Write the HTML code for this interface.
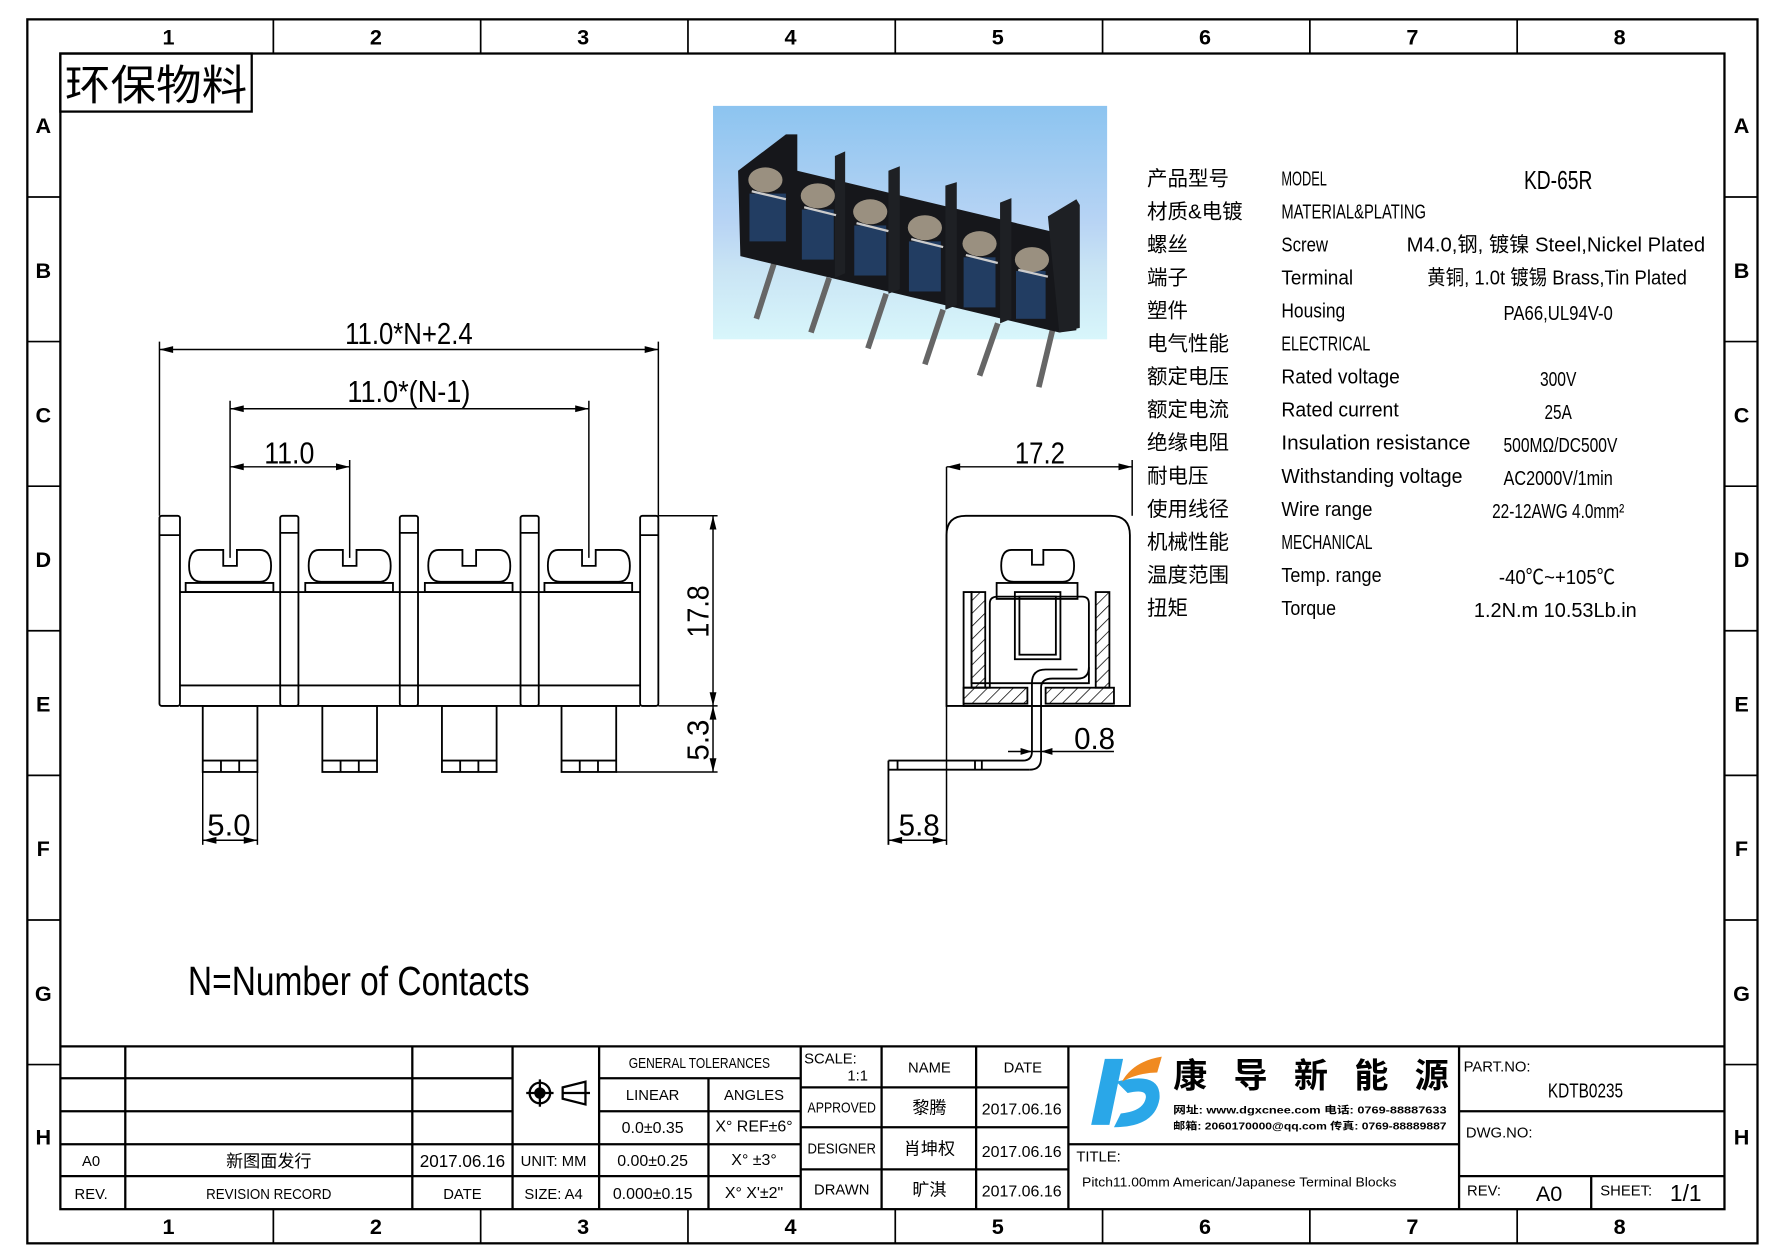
<!DOCTYPE html>
<html><head><meta charset="utf-8"><style>
html,body{margin:0;padding:0;background:#fff;}
svg{display:block;}
text{font-family:"Liberation Sans","Noto Sans CJK SC",sans-serif;fill:#000;}
</style></head><body>
<svg width="1778" height="1257" viewBox="0 0 1561 1104" preserveAspectRatio="none" xmlns="http://www.w3.org/2000/svg">
<defs>
<linearGradient id="bg" x1="0" y1="0" x2="0" y2="1">
<stop offset="0" stop-color="#8cc4f0"/><stop offset="0.5" stop-color="#b8d4f4"/><stop offset="0.7" stop-color="#c9e4f4"/><stop offset="1" stop-color="#d8f6fb"/>
</linearGradient>
<pattern id="hatch" width="8" height="8" patternUnits="userSpaceOnUse" patternTransform="rotate(45)"><line x1="0" y1="0" x2="0" y2="8" stroke="#000" stroke-width="1.3"/></pattern>
</defs>
<rect x="24" y="17" width="1519" height="1075" fill="none" stroke="#000" stroke-width="2"/>
<rect x="53" y="47" width="1461" height="1015" fill="none" stroke="#000" stroke-width="2"/>
<g stroke="#000" stroke-width="1.5">
<line x1="240" y1="17" x2="240" y2="47"/><line x1="422" y1="17" x2="422" y2="47"/><line x1="604" y1="17" x2="604" y2="47"/><line x1="786" y1="17" x2="786" y2="47"/><line x1="968" y1="17" x2="968" y2="47"/><line x1="1150" y1="17" x2="1150" y2="47"/><line x1="1332" y1="17" x2="1332" y2="47"/>
<line x1="240" y1="1062" x2="240" y2="1092"/><line x1="422" y1="1062" x2="422" y2="1092"/><line x1="604" y1="1062" x2="604" y2="1092"/><line x1="786" y1="1062" x2="786" y2="1092"/><line x1="968" y1="1062" x2="968" y2="1092"/><line x1="1150" y1="1062" x2="1150" y2="1092"/><line x1="1332" y1="1062" x2="1332" y2="1092"/>
<line x1="24" y1="173" x2="53" y2="173"/><line x1="24" y1="300" x2="53" y2="300"/><line x1="24" y1="427" x2="53" y2="427"/><line x1="24" y1="554" x2="53" y2="554"/><line x1="24" y1="681" x2="53" y2="681"/><line x1="24" y1="808" x2="53" y2="808"/><line x1="24" y1="935" x2="53" y2="935"/>
<line x1="1514" y1="173" x2="1543" y2="173"/><line x1="1514" y1="300" x2="1543" y2="300"/><line x1="1514" y1="427" x2="1543" y2="427"/><line x1="1514" y1="554" x2="1543" y2="554"/><line x1="1514" y1="681" x2="1543" y2="681"/><line x1="1514" y1="808" x2="1543" y2="808"/><line x1="1514" y1="935" x2="1543" y2="935"/>
</g>
<g font-size="19" font-weight="bold" text-anchor="middle">
<text x="148" y="39">1</text><text x="330" y="39">2</text><text x="512" y="39">3</text><text x="694" y="39">4</text><text x="876" y="39">5</text><text x="1058" y="39">6</text><text x="1240" y="39">7</text><text x="1422" y="39">8</text>
<text x="148" y="1084">1</text><text x="330" y="1084">2</text><text x="512" y="1084">3</text><text x="694" y="1084">4</text><text x="876" y="1084">5</text><text x="1058" y="1084">6</text><text x="1240" y="1084">7</text><text x="1422" y="1084">8</text>
<text x="38" y="117">A</text><text x="38" y="244">B</text><text x="38" y="371">C</text><text x="38" y="498">D</text><text x="38" y="625">E</text><text x="38" y="752">F</text><text x="38" y="879">G</text><text x="38" y="1005">H</text>
<text x="1529" y="117">A</text><text x="1529" y="244">B</text><text x="1529" y="371">C</text><text x="1529" y="498">D</text><text x="1529" y="625">E</text><text x="1529" y="752">F</text><text x="1529" y="879">G</text><text x="1529" y="1005">H</text>
</g>
<rect x="53" y="47" width="168" height="51" fill="none" stroke="#000" stroke-width="2"/>
<text x="57" y="88" font-size="37" textLength="160" lengthAdjust="spacingAndGlyphs">环保物料</text>

<!-- photo -->
<rect x="626" y="93" width="346" height="205" fill="url(#bg)"/>
<g>
<g stroke="#666" stroke-width="5">
<line x1="680" y1="230" x2="664" y2="280"/><line x1="728" y1="244" x2="712" y2="292"/><line x1="778" y1="258" x2="762" y2="306"/><line x1="828" y1="272" x2="812" y2="320"/><line x1="876" y1="284" x2="860" y2="330"/><line x1="924" y1="290" x2="912" y2="340"/>
</g>
<polygon points="648,150 690,118 700,118 700,150 930,205 940,200 945,212 945,290 930,292 650,225" fill="#16171b"/>
<g fill="#1e2024">
<polygon points="733,137 742,133 742,240 733,244"/><polygon points="780,150 790,146 790,254 780,258"/><polygon points="830,163 840,160 840,268 830,272"/><polygon points="878,178 888,174 888,280 878,284"/>
<polygon points="920,190 945,175 948,180 948,288 930,292"/>
</g>
<g fill="#223d62">
<rect x="658" y="170" width="32" height="42"/><rect x="704" y="184" width="28" height="44"/><rect x="750" y="198" width="28" height="44"/><rect x="798" y="212" width="28" height="44"/><rect x="846" y="226" width="28" height="44"/><rect x="892" y="238" width="26" height="42"/>
</g>
<g fill="#9a9080">
<ellipse cx="672" cy="158" rx="15" ry="11"/><ellipse cx="718" cy="172" rx="15" ry="11"/><ellipse cx="764" cy="186" rx="15" ry="11"/><ellipse cx="812" cy="200" rx="15" ry="11"/><ellipse cx="860" cy="214" rx="15" ry="11"/><ellipse cx="906" cy="228" rx="15" ry="11"/>
</g>
<g stroke="#ccc" stroke-width="2">
<line x1="660" y1="168" x2="690" y2="175"/><line x1="706" y1="182" x2="734" y2="189"/><line x1="752" y1="196" x2="780" y2="203"/><line x1="800" y1="210" x2="828" y2="217"/><line x1="848" y1="224" x2="876" y2="231"/><line x1="894" y1="237" x2="920" y2="243"/>
</g>
</g>

<!-- spec table -->
<g font-size="18">
<g font-family="'Noto Sans CJK SC',sans-serif">
<text x="1007" y="163">产品型号</text><text x="1007" y="192">材质&amp;电镀</text><text x="1007" y="221">螺丝</text><text x="1007" y="250">端子</text><text x="1007" y="279">塑件</text><text x="1007" y="308">电气性能</text><text x="1007" y="337">额定电压</text><text x="1007" y="366">额定电流</text><text x="1007" y="395">绝缘电阻</text><text x="1007" y="424">耐电压</text><text x="1007" y="453">使用线径</text><text x="1007" y="482">机械性能</text><text x="1007" y="511">温度范围</text><text x="1007" y="540">扭矩</text>
</g>
<text x="1125" y="163" textLength="40" lengthAdjust="spacingAndGlyphs">MODEL</text>
<text x="1125" y="192" textLength="127" lengthAdjust="spacingAndGlyphs">MATERIAL&amp;PLATING</text>
<text x="1125" y="221" textLength="41" lengthAdjust="spacingAndGlyphs">Screw</text>
<text x="1125" y="250" textLength="63" lengthAdjust="spacingAndGlyphs">Terminal</text>
<text x="1125" y="279" textLength="56" lengthAdjust="spacingAndGlyphs">Housing</text>
<text x="1125" y="308" textLength="78" lengthAdjust="spacingAndGlyphs">ELECTRICAL</text>
<text x="1125" y="337" textLength="104" lengthAdjust="spacingAndGlyphs">Rated voltage</text>
<text x="1125" y="366" textLength="103" lengthAdjust="spacingAndGlyphs">Rated current</text>
<text x="1125" y="395" textLength="166" lengthAdjust="spacingAndGlyphs">Insulation resistance</text>
<text x="1125" y="424" textLength="159" lengthAdjust="spacingAndGlyphs">Withstanding voltage</text>
<text x="1125" y="453" textLength="80" lengthAdjust="spacingAndGlyphs">Wire range</text>
<text x="1125" y="482" textLength="80" lengthAdjust="spacingAndGlyphs">MECHANICAL</text>
<text x="1125" y="511" textLength="88" lengthAdjust="spacingAndGlyphs">Temp. range</text>
<text x="1125" y="540" textLength="48" lengthAdjust="spacingAndGlyphs">Torque</text>
<text x="1338" y="166" font-size="23" textLength="60" lengthAdjust="spacingAndGlyphs">KD-65R</text>
<text x="1235" y="221" textLength="262" lengthAdjust="spacingAndGlyphs">M4.0,钢, 镀镍 Steel,Nickel Plated</text>
<text x="1253" y="250" textLength="228" lengthAdjust="spacingAndGlyphs">黄铜, 1.0t 镀锡 Brass,Tin Plated</text>
<text x="1320" y="281" textLength="96" lengthAdjust="spacingAndGlyphs">PA66,UL94V-0</text>
<text x="1352" y="339" textLength="32" lengthAdjust="spacingAndGlyphs">300V</text>
<text x="1356" y="368" textLength="24" lengthAdjust="spacingAndGlyphs">25A</text>
<text x="1320" y="397" textLength="100" lengthAdjust="spacingAndGlyphs">500MΩ/DC500V</text>
<text x="1320" y="426" textLength="96" lengthAdjust="spacingAndGlyphs">AC2000V/1min</text>
<text x="1310" y="455" textLength="116" lengthAdjust="spacingAndGlyphs">22-12AWG 4.0mm²</text>
<text x="1316" y="513" textLength="102" lengthAdjust="spacingAndGlyphs">-40℃~+105℃</text>
<text x="1294" y="542" textLength="143" lengthAdjust="spacingAndGlyphs">1.2N.m  10.53Lb.in</text>
</g>

<!-- front view -->
<g fill="none" stroke="#000" stroke-width="1.6">
<rect x="140" y="453" width="18" height="167" rx="2"/><line x1="140" y1="470" x2="158" y2="470"/>
<rect x="246" y="453" width="16" height="167" rx="2"/><line x1="246" y1="468" x2="262" y2="468"/>
<rect x="351" y="453" width="16" height="167" rx="2"/><line x1="351" y1="468" x2="367" y2="468"/>
<rect x="457" y="453" width="16" height="167" rx="2"/><line x1="457" y1="468" x2="473" y2="468"/>
<rect x="562" y="453" width="16" height="167" rx="2"/><line x1="562" y1="470" x2="578" y2="470"/>
<line x1="158" y1="520" x2="562" y2="520"/><line x1="158" y1="602" x2="562" y2="602"/><line x1="158" y1="620" x2="562" y2="620"/>
<g id="scr">
<path d="M175,483 L196,483 L196,497 L208,497 L208,483 L228,483 Q238,483 238,497 Q238,511 228,511 L177,511 Q166,511 166,497 Q166,483 175,483 Z"/>
<path d="M163,512 L240,512 L240,520 L163,520 Z"/>
</g>
<use href="#scr" transform="translate(105,0)"/><use href="#scr" transform="translate(210,0)"/><use href="#scr" transform="translate(315,0)"/>
<g id="pin"><rect x="178" y="620" width="48" height="58"/><line x1="178" y1="668" x2="226" y2="668"/><line x1="194" y1="668" x2="194" y2="678"/><line x1="210" y1="668" x2="210" y2="678"/></g>
<use href="#pin" transform="translate(105,0)"/><use href="#pin" transform="translate(210,0)"/><use href="#pin" transform="translate(315,0)"/>
</g>
<g stroke="#000" stroke-width="1.3" fill="none">
<line x1="140" y1="300" x2="140" y2="453"/><line x1="578" y1="300" x2="578" y2="453"/><line x1="140" y1="307" x2="578" y2="307"/>
<line x1="202" y1="352" x2="202" y2="490"/><line x1="517" y1="352" x2="517" y2="490"/><line x1="202" y1="359" x2="517" y2="359"/>
<line x1="307" y1="404" x2="307" y2="490"/><line x1="202" y1="410" x2="307" y2="410"/>
<line x1="578" y1="453" x2="630" y2="453"/><line x1="578" y1="620" x2="630" y2="620"/><line x1="541" y1="678" x2="630" y2="678"/>
<line x1="626" y1="453" x2="626" y2="678"/>
<line x1="178" y1="678" x2="178" y2="742"/><line x1="226" y1="678" x2="226" y2="742"/><line x1="178" y1="738" x2="226" y2="738"/>
</g>
<g fill="#000">
<path d="M140,307 l12,-3 v6z"/><path d="M578,307 l-12,-3 v6z"/>
<path d="M202,359 l12,-3 v6z"/><path d="M517,359 l-12,-3 v6z"/>
<path d="M202,410 l12,-3 v6z"/><path d="M307,410 l-12,-3 v6z"/>
<path d="M626,453 l-3,12 h6z"/><path d="M626,620 l-3,-12 h6z"/><path d="M626,620 l-3,12 h6z"/><path d="M626,678 l-3,-12 h6z"/>
<path d="M178,738 l12,-3 v6z"/><path d="M226,738 l-12,-3 v6z"/>
</g>
<g font-size="27">
<text x="303" y="302" textLength="112" lengthAdjust="spacingAndGlyphs">11.0*N+2.4</text>
<text x="305" y="353" textLength="108" lengthAdjust="spacingAndGlyphs">11.0*(N-1)</text>
<text x="232" y="407" textLength="44" lengthAdjust="spacingAndGlyphs">11.0</text>
<text x="182" y="734" textLength="38" lengthAdjust="spacingAndGlyphs">5.0</text>
<text transform="translate(622,560) rotate(-90)" textLength="46" lengthAdjust="spacingAndGlyphs">17.8</text>
<text transform="translate(622,668) rotate(-90)" textLength="36" lengthAdjust="spacingAndGlyphs">5.3</text>
<text x="891" y="407" textLength="44" lengthAdjust="spacingAndGlyphs">17.2</text>
<text x="943" y="658" textLength="36" lengthAdjust="spacingAndGlyphs">0.8</text>
<text x="789" y="734" textLength="36" lengthAdjust="spacingAndGlyphs">5.8</text>
</g>

<!-- side view -->
<g fill="none" stroke="#000" stroke-width="1.6">
<path d="M831,620 L831,470 Q831,453 848,453 L975,453 Q992,453 992,470 L992,620 Z"/>
<line x1="831" y1="410" x2="831" y2="742" stroke-width="1.3"/><line x1="994" y1="404" x2="994" y2="453" stroke-width="1.3"/>
<line x1="831" y1="410" x2="994" y2="410" stroke-width="1.3"/>
<path d="M888,483 L906,483 L906,496 L916,496 L916,483 L933,483 Q943,483 943,497 Q943,511 933,511 L890,511 Q879,511 879,497 Q879,483 888,483 Z"/>
<rect x="875" y="512" width="71" height="14"/>
<rect x="891" y="520" width="40" height="59"/><rect x="895" y="524" width="32" height="51"/>
<path d="M869,530 Q869,524 876,524 L950,524 Q956,524 956,530 L956,600 L869,600 Z"/>
<path d="M846,520 L853,520 L853,600 L869,600 L869,604 L846,604 Z M846,604 L846,620 L978,620" />
<rect x="853" y="520" width="12" height="84" fill="url(#hatch)"/>
<rect x="962" y="520" width="12" height="84" fill="url(#hatch)"/>
<rect x="846" y="604" width="56" height="14" fill="url(#hatch)"/>
<rect x="918" y="604" width="60" height="14" fill="url(#hatch)"/>
<path d="M904,676 Q914,676 914,666 L914,604 Q914,596 924,596 L946,596 Q956,596 956,586"/>
<path d="M780,668 L898,668 Q906,668 906,660 L906,600 Q906,588 918,588 L946,588"/>
<line x1="780" y1="676" x2="904" y2="676"/><line x1="780" y1="668" x2="780" y2="742"/>
<line x1="788" y1="668" x2="788" y2="676"/><line x1="856" y1="668" x2="856" y2="676"/><line x1="862" y1="668" x2="862" y2="676"/>
<line x1="885" y1="660" x2="978" y2="660" stroke-width="1.3"/>
<line x1="780" y1="738" x2="831" y2="738" stroke-width="1.3"/>
</g>
<g fill="#000">
<path d="M831,410 l12,-3 v6z"/><path d="M994,410 l-12,-3 v6z"/>
<path d="M906,660 l-10,-3 v6z"/><path d="M914,660 l10,-3 v6z"/>
<path d="M780,738 l12,-3 v6z"/><path d="M831,738 l-12,-3 v6z"/>
</g>

<text x="165" y="874" font-size="36" textLength="300" lengthAdjust="spacingAndGlyphs">N=Number of Contacts</text>

<!-- title block -->
<g stroke="#000" stroke-width="2" fill="none">
<line x1="53" y1="919" x2="1514" y2="919"/>
<line x1="53" y1="947" x2="450" y2="947"/><line x1="53" y1="976" x2="450" y2="976"/><line x1="53" y1="1005" x2="526" y2="1005"/><line x1="53" y1="1033" x2="526" y2="1033"/>
<line x1="526" y1="947" x2="703" y2="947"/><line x1="526" y1="976" x2="703" y2="976"/><line x1="526" y1="1005" x2="703" y2="1005"/><line x1="526" y1="1033" x2="703" y2="1033"/>
<line x1="110" y1="919" x2="110" y2="1062"/><line x1="362" y1="919" x2="362" y2="1062"/><line x1="450" y1="919" x2="450" y2="1062"/><line x1="526" y1="919" x2="526" y2="1062"/><line x1="622" y1="947" x2="622" y2="1062"/>
<line x1="703" y1="919" x2="703" y2="1062"/><line x1="774" y1="919" x2="774" y2="1062"/><line x1="857" y1="919" x2="857" y2="1062"/><line x1="938" y1="919" x2="938" y2="1062"/>
<line x1="703" y1="955" x2="938" y2="955"/><line x1="703" y1="990" x2="938" y2="990"/><line x1="703" y1="1027" x2="938" y2="1027"/>
<line x1="938" y1="1005" x2="1281" y2="1005"/><line x1="1281" y1="919" x2="1281" y2="1062"/>
<line x1="1281" y1="976" x2="1514" y2="976"/><line x1="1281" y1="1033" x2="1514" y2="1033"/><line x1="1397" y1="1033" x2="1397" y2="1062"/>
</g>
<g stroke="#000" stroke-width="2" fill="none">
<circle cx="474" cy="960" r="9"/><circle cx="474" cy="960" r="4" fill="#000"/><line x1="462" y1="960" x2="486" y2="960"/><line x1="474" y1="948" x2="474" y2="972"/>
<path d="M494,955 L514,950 L514,970 L494,965 Z M494,960 L518,960"/>
</g>
<g font-size="13" text-anchor="middle">
<text x="80" y="1024">A0</text><text x="80" y="1053">REV.</text>
<text x="236" y="1025" font-size="15">新图面发行</text><text x="236" y="1053" textLength="110" lengthAdjust="spacingAndGlyphs">REVISION RECORD</text>
<text x="406" y="1025" font-size="15">2017.06.16</text><text x="406" y="1053">DATE</text>
<text x="486" y="1024">UNIT: MM</text><text x="486" y="1053">SIZE: A4</text>
<text x="614" y="938" textLength="124" lengthAdjust="spacingAndGlyphs">GENERAL TOLERANCES</text>
<text x="573" y="966">LINEAR</text><text x="662" y="966">ANGLES</text>
<text x="573" y="995" font-size="14">0.0±0.35</text><text x="662" y="994" font-size="14">X° REF±6°</text>
<text x="573" y="1024" font-size="14">0.00±0.25</text><text x="662" y="1023" font-size="14">X° ±3°</text>
<text x="573" y="1053" font-size="14">0.000±0.15</text><text x="662" y="1052" font-size="14">X° X'±2"</text>
<text x="816" y="942">NAME</text><text x="898" y="942">DATE</text>
<text x="739" y="977" textLength="60" lengthAdjust="spacingAndGlyphs">APPROVED</text><text x="816" y="978" font-size="15">黎腾</text><text x="897" y="979" font-size="14">2017.06.16</text>
<text x="739" y="1013" textLength="60" lengthAdjust="spacingAndGlyphs">DESIGNER</text><text x="816" y="1014" font-size="15">肖坤权</text><text x="897" y="1016" font-size="14">2017.06.16</text>
<text x="739" y="1049">DRAWN</text><text x="816" y="1050" font-size="15">旷淇</text><text x="897" y="1051" font-size="14">2017.06.16</text>
</g>
<g font-size="13">
<text x="706" y="934">SCALE:</text><text x="744" y="949">1:1</text>
<text x="945" y="1020">TITLE:</text>
<text x="950" y="1042" font-size="11" textLength="276" lengthAdjust="spacingAndGlyphs">Pitch11.00mm American/Japanese Terminal Blocks</text>
<text x="1285" y="941">PART.NO:</text>
<text x="1287" y="999">DWG.NO:</text>
<text x="1288" y="1050">REV:</text>
<text x="1405" y="1050">SHEET:</text>
</g>
<text x="1392" y="964" font-size="18" text-anchor="middle" textLength="66" lengthAdjust="spacingAndGlyphs">KDTB0235</text>
<text x="1360" y="1055" font-size="19" text-anchor="middle">A0</text>
<text x="1480" y="1055" font-size="20" text-anchor="middle">1/1</text>
<path d="M970,930 L986,930 L974,988 L958,988 Z" fill="#2aa7e8"/>
<path d="M980,950 Q1020,940 1018,965 Q1014,990 978,990 L984,978 Q1004,976 1006,964 Q1007,956 990,960 Z" fill="#2aa7e8"/>
<path d="M985,950 Q995,932 1020,928 L1016,942 Q1000,942 985,950 Z" fill="#f08a20"/>
<g font-family="'Noto Sans CJK SC',sans-serif" font-size="30" font-weight="bold">
<text x="1030" y="955">康</text><text x="1083" y="955">导</text><text x="1136" y="955">新</text><text x="1189" y="955">能</text><text x="1242" y="955">源</text>
</g>
<g font-size="9" font-weight="bold">
<text x="1030" y="978" textLength="240" lengthAdjust="spacingAndGlyphs">网址: www.dgxcnee.com  电话: 0769-88887633</text>
<text x="1030" y="992" textLength="240" lengthAdjust="spacingAndGlyphs">邮箱: 2060170000@qq.com 传真: 0769-88889887</text>
</g>
</svg>
</body></html>
